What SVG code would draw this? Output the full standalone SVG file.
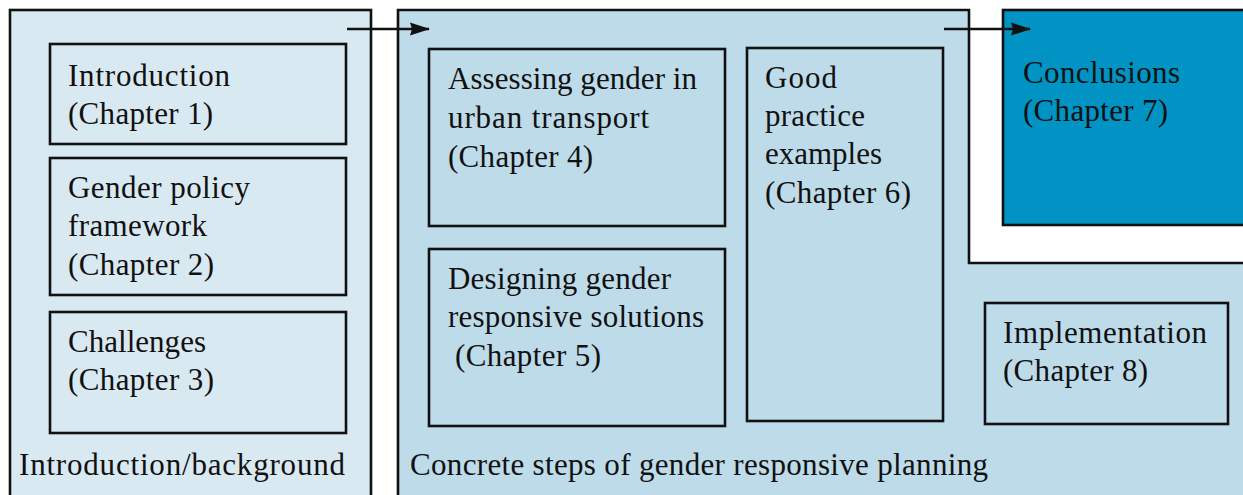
<svg xmlns="http://www.w3.org/2000/svg" width="1243" height="495" viewBox="0 0 1243 495">
<style>
.pl{fill:#d9e9f2;stroke:#111;stroke-width:2.6}
.pm{fill:#bedbea;stroke:#111;stroke-width:2.6}
.pc{fill:#0093c3;stroke:#111;stroke-width:2.6}
.bx{stroke:#111;stroke-width:2.6}
text{font-family:"Liberation Serif","Times New Roman",serif;font-size:31px;fill:#111}
.cn line{stroke:#111;stroke-width:2.4}
</style>
<defs>
<marker id="ah" viewBox="0 0 20 14" refX="19" refY="7" markerWidth="20" markerHeight="14" markerUnits="userSpaceOnUse" orient="auto">
<path d="M0,0.5 L20,7 L0,13.5 L2,7 Z" fill="#111"/>
</marker>
</defs>
<rect width="1243" height="495" fill="#fff"/>
<g id="panel-intro">
<rect class="pl" x="10" y="10" width="361" height="500"/>
<text x="19" y="475" textLength="326">Introduction/background</text>
</g>
<g id="panel-steps">
<path class="pm" d="M398,10 H969 V263 H1250 V510 H398 Z"/>
<text x="410" y="475" textLength="578">Concrete steps of gender responsive planning</text>
</g>
<g id="conclusions">
<rect class="pc" x="1003" y="10" width="260" height="215"/>
<text x="1023" y="83" textLength="157">Conclusions</text>
<text x="1023" y="121" textLength="145">(Chapter 7)</text>
</g>
<g id="ch1">
<rect class="bx" fill="#d9e9f2" x="50" y="44" width="296" height="100"/>
<text x="68" y="86" textLength="162">Introduction</text>
<text x="68" y="124" textLength="145">(Chapter 1)</text>
</g>
<g id="ch2">
<rect class="bx" fill="#d9e9f2" x="50" y="158" width="296" height="137"/>
<text x="68" y="198" textLength="182">Gender policy</text>
<text x="68" y="236" textLength="139">framework</text>
<text x="68" y="275" textLength="146">(Chapter 2)</text>
</g>
<g id="ch3">
<rect class="bx" fill="#d9e9f2" x="50" y="312" width="296" height="121"/>
<text x="68" y="352" textLength="138">Challenges</text>
<text x="68" y="390" textLength="146">(Chapter 3)</text>
</g>
<g id="ch4">
<rect class="bx" fill="#bedbea" x="429" y="49" width="296" height="177"/>
<text x="448" y="89" textLength="249">Assessing gender in</text>
<text x="448" y="128" textLength="201">urban transport</text>
<text x="448" y="167" textLength="145">(Chapter 4)</text>
</g>
<g id="ch5">
<rect class="bx" fill="#bedbea" x="429" y="249" width="296" height="177"/>
<text x="448" y="289" textLength="223">Designing gender</text>
<text x="448" y="327" textLength="256">responsive solutions</text>
<text x="455" y="366" textLength="146">(Chapter 5)</text>
</g>
<g id="ch6">
<rect class="bx" fill="#bedbea" x="747" y="48" width="196" height="373"/>
<text x="765" y="88" textLength="72">Good</text>
<text x="765" y="126" textLength="100">practice</text>
<text x="765" y="164" textLength="117">examples</text>
<text x="765" y="203" textLength="146">(Chapter 6)</text>
</g>
<g id="ch8">
<rect class="bx" fill="#bedbea" x="985" y="303" width="243" height="121"/>
<text x="1003" y="343" textLength="204">Implementation</text>
<text x="1003" y="381" textLength="145">(Chapter 8)</text>
</g>
<g id="connectors" class="cn">
<line x1="347" y1="29" x2="429" y2="29" marker-end="url(#ah)"/>
<line x1="944" y1="29" x2="1030" y2="29" marker-end="url(#ah)"/>
</g>
</svg>
